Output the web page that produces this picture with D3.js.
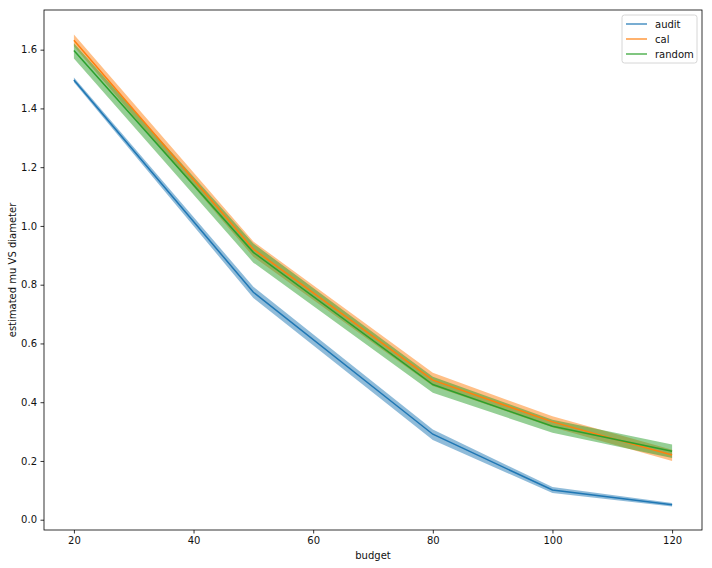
<!DOCTYPE html>
<html><head><meta charset="utf-8">
<script src="https://cdn.jsdelivr.net/npm/d3@7"></script>
<style>body{margin:0;background:#fff}svg{display:block}text{font-family:"DejaVu Sans",sans-serif}</style>
</head><body><div id="chart"></div>
<script>
const budget = [20, 50, 80, 100, 120];
const auditMean = [1.497, 0.774, 0.291, 0.101, 0.051];
const auditLo   = [1.489, 0.755, 0.271, 0.091, 0.045];
const auditHi   = [1.505, 0.793, 0.307, 0.111, 0.057];
const calMean = [1.632, 0.921, 0.475, 0.333, 0.220];
const calLo   = [1.612, 0.895, 0.455, 0.315, 0.200];
const calHi   = [1.652, 0.947, 0.500, 0.352, 0.238];
const randomMean = [1.597, 0.910, 0.460, 0.318, 0.233];
const randomLo   = [1.570, 0.875, 0.432, 0.296, 0.210];
const randomHi   = [1.622, 0.940, 0.487, 0.340, 0.256];
const seriesNames = ["audit", "cal", "random"];
const colors = ["#1f77b4", "#ff7f0e", "#2ca02c"];
const xTicks = [20, 40, 60, 80, 100, 120];
const yTicks = [0.0, 0.2, 0.4, 0.6, 0.8, 1.0, 1.2, 1.4, 1.6];

const W = 712, H = 568;
const m = {left: 44, right: 10, top: 10, bottom: 38};
const svg = d3.select("#chart").append("svg").attr("width", W).attr("height", H);
const x = d3.scaleLinear().domain([15, 125]).range([m.left, W - m.right]);
const y = d3.scaleLinear().domain([-0.035, 1.735]).range([H - m.bottom, m.top]);

const series = [
  {name: seriesNames[0], mean: auditMean, lo: auditLo, hi: auditHi, color: colors[0]},
  {name: seriesNames[1], mean: calMean, lo: calLo, hi: calHi, color: colors[1]},
  {name: seriesNames[2], mean: randomMean, lo: randomLo, hi: randomHi, color: colors[2]}
];

const area = d3.area().x(d => x(d.b)).y0(d => y(d.lo)).y1(d => y(d.hi));
const line = d3.line().x(d => x(d.b)).y(d => y(d.v));

const plot = svg.append("g");
series.forEach(s => {
  const pts = budget.map((b, i) => ({b, v: s.mean[i], lo: s.lo[i], hi: s.hi[i]}));
  plot.append("path").attr("d", area(pts)).attr("fill", s.color).attr("fill-opacity", 0.5).attr("stroke", "none");
});
series.forEach(s => {
  const pts = budget.map((b, i) => ({b, v: s.mean[i]}));
  plot.append("path").attr("d", line(pts)).attr("fill", "none").attr("stroke", s.color).attr("stroke-width", 1.5);
});

const xAxis = svg.append("g").attr("transform", `translate(0,${H - m.bottom})`)
  .call(d3.axisBottom(x).tickValues(xTicks).tickSize(3.5).tickPadding(3.5).tickFormat(d3.format("d")));
const yAxis = svg.append("g").attr("transform", `translate(${m.left},0)`)
  .call(d3.axisLeft(y).tickValues(yTicks).tickSize(3.5).tickPadding(3.5).tickFormat(d3.format(".1f")));
[xAxis, yAxis].forEach(a => {
  a.select(".domain").remove();
  a.selectAll("text").attr("font-size", 10).attr("fill", "#111").style("font-family", "DejaVu Sans");
  a.selectAll("line").attr("stroke", "#000").attr("stroke-width", 0.8);
});

svg.append("rect").attr("x", m.left).attr("y", m.top)
  .attr("width", W - m.left - m.right).attr("height", H - m.top - m.bottom)
  .attr("fill", "none").attr("stroke", "#000").attr("stroke-width", 0.8);

svg.append("text").attr("x", (m.left + W - m.right) / 2).attr("y", 559)
  .attr("text-anchor", "middle").attr("font-size", 10).attr("fill", "#111").text("budget");
svg.append("text").attr("transform", `translate(15.5,${(m.top + H - m.bottom) / 2}) rotate(-90)`)
  .attr("text-anchor", "middle").attr("font-size", 10).attr("fill", "#111").text("estimated mu VS diameter");

const lg = svg.append("g").attr("transform", "translate(622,15)");
lg.append("rect").attr("width", 75).attr("height", 48).attr("rx", 2.5)
  .attr("fill", "#fff").attr("fill-opacity", 0.8).attr("stroke", "#cccccc").attr("stroke-width", 0.8);
series.forEach((s, i) => {
  const yy = 9 + i * 15;
  lg.append("line").attr("x1", 4).attr("x2", 25).attr("y1", yy).attr("y2", yy)
    .attr("stroke", s.color).attr("stroke-width", 1.5).attr("stroke-opacity", 0.8);
  lg.append("text").attr("x", 33).attr("y", yy + 3.5).attr("font-size", 10).attr("fill", "#111").text(s.name);
});
</script></body></html>
